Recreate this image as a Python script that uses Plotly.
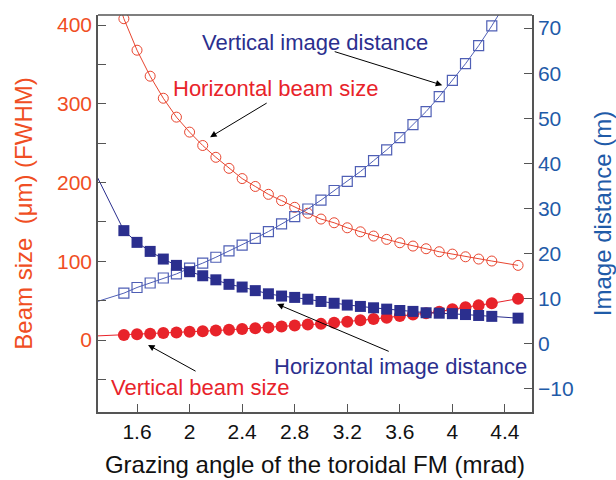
import plotly.graph_objects as go

# grazing angle (mrad); first point lies just outside the visible x range, last at 4.5
angle = [1.2, 1.5, 1.6, 1.7, 1.8, 1.9, 2.0, 2.1, 2.2, 2.3, 2.4, 2.5, 2.6, 2.7, 2.8, 2.9,
         3.0, 3.1, 3.2, 3.3, 3.4, 3.5, 3.6, 3.7, 3.8, 3.9, 4.0, 4.1, 4.2, 4.3, 4.5]

horiz_beam_size = [560, 408, 368, 335, 307, 283, 264, 247, 232, 218, 205, 195, 185, 177, 168.5, 161,
                   153.6, 148.9, 142.5, 137.4, 132, 127.8, 123.5, 119.3, 115.9, 112.1, 109.1, 105.7, 102.8, 100.3, 94.8]
vert_beam_size = [4.5, 6.5, 7.2, 8.0, 8.8, 9.6, 10.4, 11.2, 12.0, 13.0, 14.0, 15.0, 16.0, 17.2, 18.4, 19.7,
                  20.5, 22.0, 23.2, 25.0, 26.6, 28.3, 30.5, 32.4, 34.0, 36.0, 39.0, 41.5, 44.0, 46.6, 52.5]
vert_image_dist = [8.5, 11.24, 12.5, 13.5, 14.6, 15.5, 16.8, 17.9, 19.2, 20.6, 21.9, 23.4, 24.9, 26.6, 28.2, 29.9,
                   31.85, 34.0, 36.0, 38.2, 40.6, 43.0, 45.7, 48.6, 51.5, 54.8, 58.4, 62.1, 66.1, 70.5, 80.0]
horiz_image_dist = [42.7, 25.1, 22.5, 20.5, 18.8, 17.4, 16.0, 15.1, 14.2, 13.2, 12.6, 11.8, 11.1, 10.6, 10.3, 9.9,
                    9.4, 9.0, 8.6, 8.3, 8.0, 7.7, 7.4, 7.2, 6.9, 6.8, 6.7, 6.5, 6.3, 6.1, 5.7]

x_ticks = [1.6, 2.0, 2.4, 2.8, 3.2, 3.6, 4.0, 4.4]
x_tick_labels = ["1.6", "2", "2.4", "2.8", "3.2", "3.6", "4", "4.4"]
left_ticks = [-50, 0, 50, 100, 150, 200, 250, 300, 350, 400]
left_tick_labels = ["", "0", "", "100", "", "200", "", "300", "", "400"]
right_ticks = [-10, 0, 10, 20, 30, 40, 50, 60, 70]

RED = "#e8232a"
RED_LINE = "#e8452f"
ORANGE = "#f04e23"
NAVY = "#2b2f8e"
BLUE_OPEN = "#4f5fb5"
BLUE_AX = "#1f5ba8"
FONT = "Arial, Liberation Sans, sans-serif"

fig = go.Figure()
fig.add_trace(go.Scatter(x=angle, y=horiz_beam_size, mode="lines+markers",
                         line=dict(color=RED_LINE, width=1),
                         marker=dict(symbol="circle-open", size=10, color=RED_LINE, line=dict(width=1)),
                         yaxis="y"))
fig.add_trace(go.Scatter(x=angle, y=vert_beam_size, mode="lines+markers",
                         line=dict(color=RED, width=1),
                         marker=dict(symbol="circle", size=12, color=RED),
                         yaxis="y"))
fig.add_trace(go.Scatter(x=angle, y=vert_image_dist, mode="lines+markers",
                         line=dict(color=BLUE_OPEN, width=1),
                         marker=dict(symbol="square-open", size=10, color=BLUE_OPEN, line=dict(width=1.2)),
                         yaxis="y2"))
fig.add_trace(go.Scatter(x=angle, y=horiz_image_dist, mode="lines+markers",
                         line=dict(color=NAVY, width=1),
                         marker=dict(symbol="square", size=11, color=NAVY),
                         yaxis="y2"))

axis_line = dict(showline=True, linecolor="#555555", linewidth=1.5, mirror=False,
                 ticks="inside", ticklen=8, tickcolor="#555555", tickwidth=1.2,
                 showgrid=False, zeroline=False, automargin=False)

fig.update_layout(
    width=616, height=480,
    margin=dict(l=98, r=84, t=15, b=68),
    paper_bgcolor="white", plot_bgcolor="white",
    showlegend=False,
    font=dict(family=FONT),
    xaxis=dict(range=[1.303, 4.606], tickvals=x_ticks, ticktext=x_tick_labels,
               tickfont=dict(size=21, color="#111111"),
               title=dict(text="Grazing angle of the toroidal FM (mrad)",
                          font=dict(size=24, color="#111111"), standoff=14),
               **axis_line),
    yaxis=dict(range=[-91.4, 412.7], tickvals=left_ticks, ticktext=left_tick_labels,
               tickfont=dict(size=21, color=ORANGE),
               title=dict(text="Beam size  (\u03bcm) (FWHM)", font=dict(size=24, color=ORANGE), standoff=18),
               **axis_line),
    yaxis2=dict(range=[-15.1, 72.9], tickvals=right_ticks, overlaying="y", side="right",
                tickfont=dict(size=21, color=BLUE_AX),
                title=dict(text="Image distance (m)", font=dict(size=24, color=BLUE_AX), standoff=22),
                **axis_line),
)

# top border of the frame
fig.add_shape(type="line", xref="paper", yref="paper", x0=0, x1=1, y0=1, y1=1,
              line=dict(color="#555555", width=1.5))

texts = [
    ("Vertical image distance", 2.956, 378, NAVY),
    ("Horizontal beam size", 2.651, 320, RED),
    ("Horizontal image distance", 3.603, -34, NAVY),
    ("Vertical beam size", 2.08, -60, RED),
]
for t, xx, yy, c in texts:
    fig.add_annotation(x=xx, y=yy, xref="x", yref="y", text=t, showarrow=False,
                       font=dict(size=22, color=c, family=FONT))

arrows = [
    (3.093, 366.8, 3.923, 323.6),
    (2.598, 302.0, 2.156, 257.6),
    (3.527, -15.2, 2.666, 45.7),
    (2.057, -40.6, 1.684, -6.3),
]
for x0, y0, x1, y1 in arrows:
    fig.add_annotation(x=x1, y=y1, ax=x0, ay=y0, xref="x", yref="y", axref="x", ayref="y",
                       text="", showarrow=True, arrowhead=2, arrowsize=1.3, arrowwidth=1,
                       arrowcolor="black")

fig.write_html("out.html")
